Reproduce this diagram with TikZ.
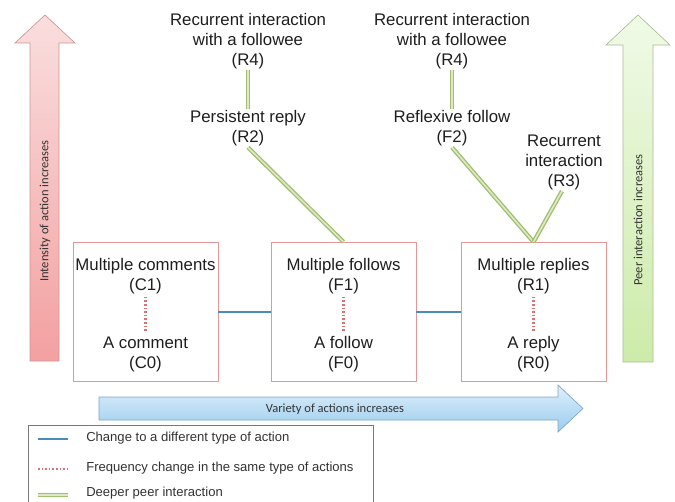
\documentclass[tikz,border=0pt]{standalone}
\usepackage{fontspec}
\setmainfont{Liberation Sans}
\newfontfamily\carlfont{Carlito}
\definecolor{txt}{RGB}{30,30,30}
\definecolor{boxline}{RGB}{226,150,150}
\definecolor{chgblue}{RGB}{74,140,185}
\definecolor{freqred}{RGB}{215,115,115}
\definecolor{peerdark}{RGB}{160,190,110}
\definecolor{peerlight}{RGB}{222,234,198}
\definecolor{redtop}{RGB}{250,222,222}
\definecolor{redbot}{RGB}{243,160,160}
\definecolor{redline}{RGB}{205,150,150}
\definecolor{grtop}{RGB}{240,250,230}
\definecolor{grbot}{RGB}{205,235,170}
\definecolor{grline}{RGB}{170,190,150}
\definecolor{bltop}{RGB}{222,239,251}
\definecolor{blbot}{RGB}{155,204,238}
\definecolor{blline}{RGB}{125,165,200}
\definecolor{legline}{RGB}{120,120,120}
\begin{document}
\begin{tikzpicture}[x=0.75pt,y=-0.75pt,
  lbl/.style={align=center, text=txt, inner sep=1pt, font=\fontsize{12.6}{15}\selectfont},
  actbox/.style={draw=boxline, line width=0.6pt, minimum width=108.75pt, minimum height=104.5pt, inner sep=0pt},
  chg/.style={draw=chgblue, line width=1.8pt},
  freq/.style={draw=freqred, line width=1.6pt, dash pattern=on 1.2pt off 1.5pt},
  peer/.style={draw=peerdark, double=peerlight, double distance=1.2pt, line width=1pt},
  axtxt/.style={font=\carlfont\fontsize{9.4}{11}\selectfont, text=black!80, inner sep=0pt},
  legtxt/.style={anchor=west, font=\fontsize{9.8}{12}\selectfont, text=black!80, inner sep=0pt}]
\useasboundingbox (0,0) rectangle (675,501);

% axis arrows
\path[draw=redline, line width=0.5pt, top color=redtop, bottom color=redbot]
  (30,361) -- (30,43) -- (15,43) -- (45,15) -- (75,43) -- (59,43) -- (59,361) -- cycle;
\node[axtxt, rotate=90] (intens) at (45,211) {Intensity of action increases};

\path[draw=grline, line width=0.5pt, top color=grtop, bottom color=grbot]
  (623,362) -- (623,45) -- (606,45) -- (638,15) -- (670,45) -- (653,45) -- (653,362) -- cycle;
\node[axtxt, rotate=90] (peerax) at (638,220) {Peer interaction increases};

\path[draw=blline, line width=0.5pt, top color=bltop, bottom color=blbot]
  (99,397) -- (558,397) -- (558,385) -- (583,408.5) -- (558,432) -- (558,420) -- (99,420) -- cycle;
\node[axtxt] (variety) at (335,409) {Variety of actions increases};

% boxes
\node[actbox] (cbox) at (145.5,312) {};
\node[actbox] (fbox) at (343.5,312) {};
\node[actbox] (rbox) at (533.5,312) {};

\node[lbl] (c1) at (145.5,276) {Multiple comments\\(C1)};
\node[lbl] (c0) at (145.5,354) {A comment\\(C0)};
\node[lbl] (f1) at (343.5,276) {Multiple follows\\(F1)};
\node[lbl] (f0) at (343.5,354) {A follow\\(F0)};
\node[lbl] (r1) at (533.5,276) {Multiple replies\\(R1)};
\node[lbl] (r0) at (533.5,354) {A reply\\(R0)};

\draw[freq] ([yshift=-1pt]c1.south) -- ([yshift=2pt]c0.north);
\draw[freq] ([yshift=-1pt]f1.south) -- ([yshift=2pt]f0.north);
\draw[freq] ([yshift=-1pt]r1.south) -- ([yshift=2pt]r0.north);

\draw[chg] (cbox.east) -- (fbox.west);
\draw[chg] (fbox.east) -- (rbox.west);

% upper labels
\node[lbl] (r4a) at (248,41) {Recurrent interaction\\with a followee\\(R4)};
\node[lbl] (r2) at (248,128) {Persistent reply\\(R2)};
\node[lbl] (r4b) at (452,41) {Recurrent interaction\\with a followee\\(R4)};
\node[lbl] (f2) at (452,128) {Reflexive follow\\(F2)};
\node[lbl] (r3) at (564,162) {Recurrent\\interaction\\(R3)};

\draw[peer] (r4a.south) -- (r2.north);
\draw[peer] (r4b.south) -- (f2.north);
\draw[peer] (r2.south) -- (fbox.north);
\draw[peer] (f2.south) -- (rbox.north);
\draw[peer] ([xshift=-1.5pt]r3.south) -- (rbox.north);

% legend
\draw[legline, line width=0.6pt] (28,503) -- (28,425) -- (373,425) -- (373,503);
\coordinate (la1) at (38,439);
\coordinate (lb1) at (68,439);
\coordinate (la2) at (38,469);
\coordinate (lb2) at (68,469);
\coordinate (la3) at (38,495);
\coordinate (lb3) at (68,495);
\draw[chg] (la1) -- (lb1);
\draw[freq] (la2) -- (lb2);
\draw[peer] (la3) -- (lb3);
\node[legtxt] (l1) at (86,438) {Change to a different type of action};
\node[legtxt] (l2) at (86,468) {Frequency change in the same type of actions};
\node[legtxt] (l3) at (86,493) {Deeper peer interaction};
\end{tikzpicture}
\end{document}
